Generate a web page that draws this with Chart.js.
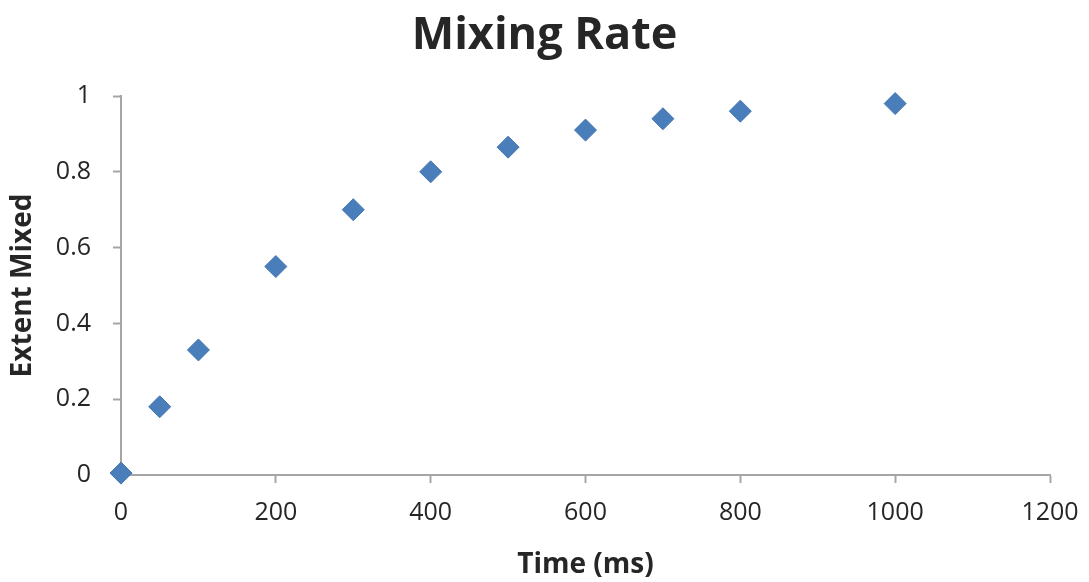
<!DOCTYPE html>
<html>
<head>
<meta charset="utf-8">
<script src="https://cdn.jsdelivr.net/npm/chart.js@4"></script>
<style>
	html, body { margin: 0; padding: 0; background: #fff; }
	#wrap { width: 1089px; height: 582px; }
</style>
</head>
<body>
<div id="wrap"><canvas id="chart-mixing-rate"></canvas></div>
<script>
// Mixing time (ms) and fraction mixed
const TIME_MS = [0, 50, 100, 200, 300, 400, 500, 600, 700, 800, 1000];
const EXTENT_MIXED = [0.005, 0.18, 0.33, 0.55, 0.70, 0.80, 0.865, 0.91, 0.94, 0.96, 0.98];

const AXIS_COLOR = "#a6a6a6";
const TEXT_COLOR = "#262626";
const FONT = "Open Sans";

const CHART_WRAPPER = document.getElementById("chart-mixing-rate");

// plain numbers, no thousands separator or trailing ".0"
const plainTick = (value) => String(Math.round(value * 10) / 10);

const CHART_DATA = {
	datasets: [
		{
			label: "Extent Mixed",
			data: TIME_MS.map((t, i) => ({ x: t, y: EXTENT_MIXED[i] })),
			pointStyle: "rectRot",
			pointRadius: 11,
			pointHoverRadius: 11,
			backgroundColor: "#4a7ebb",
			borderColor: "#4375b3",
			borderWidth: 1,
			showLine: false,
			clip: false,
		},
	],
};

const CHART_CONFIG = {
	type: "scatter",
	data: CHART_DATA,
	options: {
		maintainAspectRatio: false,
		responsive: true,
		animation: false,
		layout: {
			padding: 0,
		},
		plugins: {
			legend: { display: false },
			tooltip: { enabled: false },
			title: {
				display: true,
				text: "Mixing Rate",
				color: TEXT_COLOR,
				font: { family: FONT, size: 45, weight: "bold" },
				padding: { top: 9, bottom: 33 },
			},
		},
		scales: {
			x: {
				type: "linear",
				min: 0,
				max: 1200,
				border: { display: true, color: AXIS_COLOR, width: 2 },
				grid: {
					display: true,
					drawOnChartArea: false,
					drawTicks: true,
					tickLength: 8,
					tickColor: AXIS_COLOR,
					tickWidth: 2,
				},
				ticks: {
					stepSize: 200,
					color: TEXT_COLOR,
					padding: 15,
					maxRotation: 0,
					font: { family: FONT, size: 25 },
					callback: plainTick,
				},
				title: {
					display: true,
					text: "Time (ms)",
					color: TEXT_COLOR,
					font: { family: FONT, size: 28, weight: "bold" },
					padding: { top: 6, bottom: 0 },
				},
				afterFit: (scale) => {
					scale.height = 107;
					// keep room on the right for the "1200" label
					scale.paddingRight = 39;
				},
			},
			y: {
				type: "linear",
				min: 0,
				max: 1,
				border: { display: true, color: AXIS_COLOR, width: 2 },
				grid: {
					display: true,
					drawOnChartArea: false,
					drawTicks: true,
					tickLength: 8,
					tickColor: AXIS_COLOR,
					tickWidth: 2,
				},
				ticks: {
					stepSize: 0.2,
					color: TEXT_COLOR,
					padding: 22,
					font: { family: FONT, size: 25 },
					callback: plainTick,
				},
				title: {
					display: true,
					text: "Extent Mixed",
					color: TEXT_COLOR,
					font: { family: FONT, size: 28, weight: "bold" },
					padding: { top: 6, bottom: 0 },
				},
				afterFit: (scale) => {
					scale.width = 121;
				},
			},
		},
	},
};

if (CHART_WRAPPER) {
	new Chart(CHART_WRAPPER, CHART_CONFIG);
}
</script>
</body>
</html>
